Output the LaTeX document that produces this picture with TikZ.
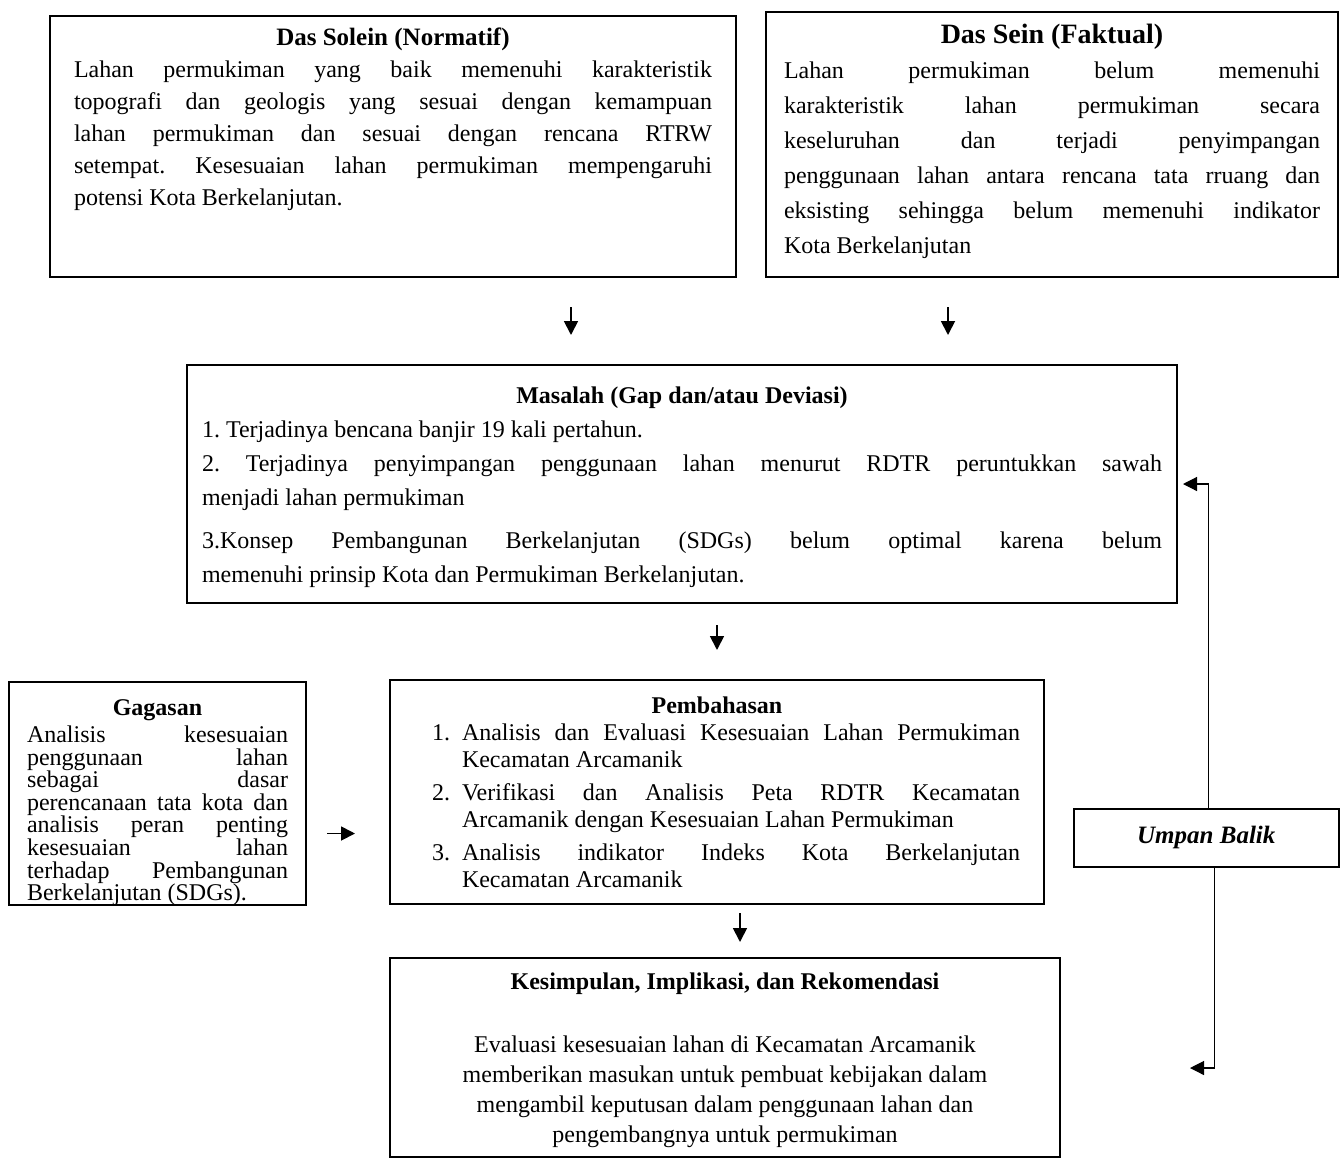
\documentclass[tikz,border=0pt]{standalone}
\usepackage{fontspec}
\setmainfont{Liberation Serif}
\usetikzlibrary{positioning, arrows.meta}

\newcommand{\isikotak}[3]{\begin{minipage}[t][#2][t]{#1}\frenchspacing#3\end{minipage}}
\newcommand{\butir}[2]{\par\hangindent=24pt\hangafter=1\noindent\makebox[24pt][l]{\hspace{9pt}#1}#2}

\begin{document}
\begin{tikzpicture}[x=0.5pt, y=-0.5pt,
    kotak/.style={draw, line width=0.8pt, anchor=north west, inner xsep=#1, outer sep=0pt},
    kotak/.default=12pt,
    panah/.style={-{Triangle[length=7pt, width=7pt]}, line width=0.9pt},
    balik/.style={-{Triangle[length=7pt, width=7pt]}, line width=0.6pt}]

    \useasboundingbox (0,0) rectangle (1340,1158);

    % Das Solein (normatif)
    \node[kotak, inner ysep=6pt, font={\fontsize{12}{16}\selectfont}] (solein) at (50,16)
        {\isikotak{319pt}{118.5pt}{{\centering\fontsize{12.5}{16}\selectfont\textbf{Das Solein (Normatif)}\par}
        Lahan permukiman yang baik memenuhi karakteristik\linebreak
        topografi dan geologis yang sesuai dengan kemampuan\linebreak
        lahan permukiman dan sesuai dengan rencana RTRW\linebreak
        setempat. Kesesuaian lahan permukiman mempengaruhi\linebreak
        potensi Kota Berkelanjutan.}};

    % Das Sein (faktual)
    \node[kotak=9pt, inner ysep=6pt, font={\fontsize{12}{17.5}\selectfont}] (sein) at (766,12)
        {\isikotak{268pt}{120.5pt}{{\centering\fontsize{14}{15}\selectfont\textbf{Das Sein (Faktual)}\par}
        Lahan permukiman belum memenuhi\linebreak
        karakteristik lahan permukiman secara\linebreak
        keseluruhan dan terjadi penyimpangan\linebreak
        penggunaan lahan antara rencana tata rruang dan\linebreak
        eksisting sehingga belum memenuhi indikator\linebreak
        Kota Berkelanjutan}};

    % Masalah
    \node[kotak=7.5pt, inner ysep=11pt, font={\fontsize{12}{17}\selectfont}] (masalah) at (187,365)
        {\isikotak{480pt}{97pt}{{\centering\textbf{Masalah (Gap dan/atau Deviasi)}\par}
        1. Terjadinya bencana banjir 19 kali pertahun.\par
        2. Terjadinya penyimpangan penggunaan lahan menurut RDTR peruntukkan sawah\linebreak
        menjadi lahan permukiman\par\vspace{4.5pt}
        3.Konsep Pembangunan Berkelanjutan (SDGs) belum optimal karena belum\linebreak
        memenuhi prinsip Kota dan Permukiman Berkelanjutan.}};

    % Gagasan
    \node[kotak=9pt, inner ysep=9pt, font={\fontsize{12}{11.3}\selectfont}] (gagasan) at (9,682)
        {\isikotak{130.5pt}{93.5pt}{{\centering\textbf{Gagasan}\par}\vspace{2pt}
        Analisis kesesuaian\linebreak
        penggunaan lahan\linebreak
        sebagai dasar\linebreak
        perencanaan tata kota dan\linebreak
        analisis peran penting\linebreak
        kesesuaian lahan\linebreak
        terhadap Pembangunan\linebreak
        Berkelanjutan (SDGs).}};

    % Pembahasan
    \node[kotak, inner ysep=8.5pt, font={\fontsize{12}{13.5}\selectfont}] (bahas) at (390,680)
        {\isikotak{303pt}{95pt}{{\centering\textbf{Pembahasan}\par}
        \butir{1.}{Analisis dan Evaluasi Kesesuaian Lahan Permukiman\linebreak
        Kecamatan Arcamanik}\par\vspace{3pt}
        \butir{2.}{Verifikasi dan Analisis Peta RDTR Kecamatan\linebreak
        Arcamanik dengan Kesesuaian Lahan Permukiman}\par\vspace{3pt}
        \butir{3.}{Analisis indikator Indeks Kota Berkelanjutan\linebreak
        Kecamatan Arcamanik}}};

    % Kesimpulan
    \node[kotak, inner ysep=7.5pt, font={\fontsize{12}{15}\selectfont}] (simpul) at (390,958)
        {\isikotak{311pt}{84.5pt}{\centering\textbf{Kesimpulan, Implikasi, dan Rekomendasi}\par
        \vspace{16.5pt}
        Evaluasi kesesuaian lahan di Kecamatan Arcamanik\\
        memberikan masukan untuk pembuat kebijakan dalam\\
        mengambil keputusan dalam penggunaan lahan dan\\
        pengembangnya untuk permukiman\par}};

    % Umpan balik
    \node[draw, line width=0.8pt, anchor=north west, minimum width=132.5pt, minimum height=29pt,
          font={\fontsize{12.5}{14}\selectfont\bfseries\itshape}] (umpan) at (1073,808) {Umpan Balik};

    % panah utama
    \draw[panah] ([xshift=89pt, yshift=-15pt]solein.south) -- ([xshift=-55.5pt, yshift=15pt]masalah.north);
    \draw[panah] ([xshift=-52pt, yshift=-15pt]sein.south) -- ([xshift=133pt, yshift=15pt]masalah.north);
    \draw[panah] ([xshift=17.5pt, yshift=-11pt]masalah.south) -- ([yshift=15pt]bahas.north);
    \draw[panah] ([xshift=11.5pt, yshift=-4.5pt]bahas.south) -- ([xshift=7.5pt, yshift=8pt]simpul.north);
    \draw[panah] ([xshift=10.5pt, yshift=-20pt]gagasan.east) -- ([xshift=-17.5pt, yshift=-20.75pt]bahas.west);

    % umpan balik
    \draw[balik] ([xshift=1pt]umpan.north) |- ([xshift=3pt]masalah.east);
    \draw[balik] ([xshift=4pt]umpan.south) |- ([xshift=65pt, yshift=-5.25pt]simpul.east);
\end{tikzpicture}
\end{document}
